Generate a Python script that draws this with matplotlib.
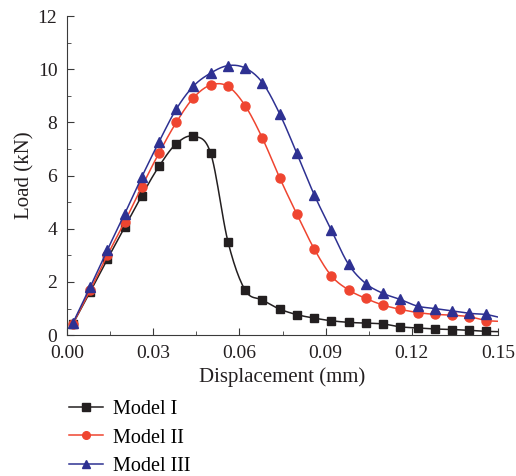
import numpy as np
import matplotlib.pyplot as plt
from matplotlib.ticker import MultipleLocator

plt.rcParams['font.family'] = ['Liberation Serif', 'DejaVu Serif']

# displacement (mm), sampled every 0.006 mm
disp = [0.002, 0.008, 0.014, 0.020, 0.026, 0.032, 0.038, 0.044, 0.050, 0.056,
        0.062, 0.068, 0.074, 0.080, 0.086, 0.092, 0.098, 0.104, 0.110, 0.116,
        0.122, 0.128, 0.134, 0.140, 0.146]

load_m1 = [0.42, 1.62, 2.85, 4.05, 5.25, 6.35, 7.2, 7.48, 6.84, 3.52,
           1.69, 1.32, 0.98, 0.77, 0.64, 0.54, 0.48, 0.45, 0.42, 0.31,
           0.27, 0.23, 0.21, 0.18, 0.14]
load_m2 = [0.42, 1.68, 3.0, 4.25, 5.58, 6.85, 8.0, 8.93, 9.41, 9.36,
           8.63, 7.41, 5.92, 4.55, 3.25, 2.23, 1.70, 1.38, 1.13, 0.97,
           0.85, 0.78, 0.75, 0.69, 0.54]
load_m3 = [0.45, 1.8, 3.2, 4.55, 5.95, 7.27, 8.5, 9.37, 9.86, 10.14,
           10.05, 9.5, 8.33, 6.84, 5.29, 3.95, 2.66, 1.94, 1.57, 1.34,
           1.09, 1.0, 0.91, 0.82, 0.78]
# line end values at x = 0.15
load_end = [0.13, 0.52, 0.68]

labels = ['Model I', 'Model II', 'Model III']
colors = ['#231f20', '#ef4530', '#2e3192']
markers = ['s', 'o', '^']


def smooth(x, y, n=12):
    # Catmull-Rom spline through the points, for a smooth connecting line
    x = np.asarray(x, float)
    y = np.asarray(y, float)
    px = np.concatenate([[2 * x[0] - x[1]], x, [2 * x[-1] - x[-2]]])
    py = np.concatenate([[2 * y[0] - y[1]], y, [2 * y[-1] - y[-2]]])
    xs, ys = [], []
    t = np.linspace(0, 1, n, endpoint=False)
    for i in range(1, len(px) - 2):
        for arr, out in ((px, xs), (py, ys)):
            p0, p1, p2, p3 = arr[i - 1:i + 3]
            out.append(0.5 * (2 * p1 + (-p0 + p2) * t
                              + (2 * p0 - 5 * p1 + 4 * p2 - p3) * t ** 2
                              + (-p0 + 3 * p1 - 3 * p2 + p3) * t ** 3))
    xs.append([x[-1]])
    ys.append([y[-1]])
    return np.concatenate(xs), np.concatenate(ys)


fig = plt.figure(figsize=(5.16, 4.76), dpi=100)
ax = fig.add_axes([0.130, 0.296, 0.835, 0.670])

handles = []
for y, end, lab, c, m in zip([load_m1, load_m2, load_m3], load_end, labels, colors, markers):
    sx, sy = smooth(disp, y)
    ax.plot(sx, sy, color=c, lw=1.1)
    ax.plot([disp[-1], 0.15], [y[-1], end], color=c, lw=1.1)
    ax.plot(disp, y, linestyle='none', marker=m, color=c, ms=6.5 if m != 's' else 5.5)
    h, = ax.plot([], [], color=c, lw=1.1, marker=m, ms=5.5, label=lab)
    handles.append(h)

ax.set_xlim(0, 0.15)
ax.set_ylim(0, 12)
ax.xaxis.set_major_locator(MultipleLocator(0.03))
ax.xaxis.set_minor_locator(MultipleLocator(0.015))
ax.yaxis.set_major_locator(MultipleLocator(2))
ax.yaxis.set_minor_locator(MultipleLocator(1))
ax.xaxis.set_major_formatter(plt.FuncFormatter(lambda v, p: f'{v:.2f}'))
for s in ['top', 'right']:
    ax.spines[s].set_visible(False)
for s in ['left', 'bottom']:
    ax.spines[s].set_color('#3a3a3a')
ax.tick_params(which='both', direction='in', colors='#3a3a3a', labelsize=14, labelcolor='#231f20')
ax.tick_params(which='major', length=5)
ax.tick_params(which='minor', length=3)
ax.tick_params(axis='x', which='major', pad=7)
ax.tick_params(axis='y', which='major', pad=7)
ax.set_xlabel('Displacement (mm)', fontsize=15, labelpad=4, color='#231f20')
ax.set_ylabel('Load (kN)', fontsize=15, labelpad=2, color='#231f20')

fig.legend(handles=handles, loc='upper left', bbox_to_anchor=(0.118, 0.176),
           frameon=False, fontsize=14.5, handlelength=1.7, handletextpad=0.5,
           labelspacing=0.45, borderaxespad=0)

fig.savefig('out.png', dpi=100)
